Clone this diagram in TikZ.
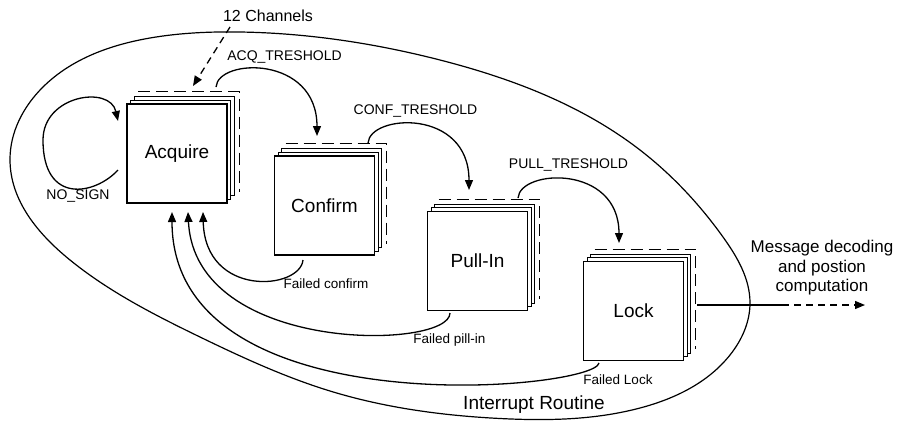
\documentclass[tikz,border=0pt]{standalone}
\usepackage{fontspec}
\setmainfont{Liberation Sans}
\usetikzlibrary{calc,arrows.meta,hobby}

\tikzset{
  chbox/.style={draw, fill=white, line width=1.2pt, minimum width=100pt,
    minimum height=99pt, inner sep=0pt, font=\fontsize{19}{22}\selectfont},
  backline/.style={line width=1.2pt, dash pattern=on 12pt off 6pt},
  flow/.style={line width=1.3pt, -{Triangle[length=10pt,width=8pt]}},
  dashflow/.style={line width=1.3pt, dash pattern=on 7pt off 5pt,
    -{Triangle[length=10pt,width=8pt]}},
  plainline/.style={line width=1.3pt},
  routine/.style={line width=1.2pt},
  lbl/.style={inner sep=0pt, font=\fontsize{14}{16}\selectfont},
  small/.style={inner sep=0pt, font=\fontsize{13.5}{16}\selectfont},
  big/.style={inner sep=0pt, font=\fontsize{19}{22}\selectfont},
}

% A stack of channel boxes: two copies behind, a dashed outline for the rest
\newcommand\chanstack[4]{%
  \node[chbox] at (#2+7.3,#3-7.3) {};
  \node[chbox] at (#2+3.7,#3-3.7) {};
  \node[chbox] (#1) at (#2,#3) {#4};
  \draw[backline] ($(#1.north west)+(11.7,-11.7)$) -- ($(#1.north east)+(11.7,-11.7)$)
    -- ($(#1.south east)+(11.7,-11.7)$);
}

\begin{document}
\begin{tikzpicture}[x=1pt,y=-1pt]
\useasboundingbox (0,0) rectangle (897,421);

% interrupt routine boundary
\draw[routine, use Hobby shortcut, closed=true]
  (240,32) .. (440,60) .. (640,150) .. (723,237) .. (750,303) .. (730,355)
  .. (640,408) .. (500,418.5) .. (330,391) .. (200,337) .. (70,260)
  .. (10,160) .. (43,87) .. (150,38);

% channel stacks
\chanstack{acq}{177}{153.5}{Acquire}
\chanstack{conf}{324.5}{205.5}{Confirm}
\chanstack{pull}{477.5}{261}{Pull-In}
\chanstack{lock}{633.5}{311}{Lock}

% labels
\node[big] (chan) at (268,16) {\fontsize{16}{18}\selectfont 12 Channels};
\node[lbl] (acqlbl) at (284.5,57) {ACQ\_TRESHOLD};
\node[lbl] (conflbl) at (415.5,111) {CONF\_TRESHOLD};
\node[lbl] (pulllbl) at (568.5,165) {PULL\_TRESHOLD};
\node[lbl] (nosign) at (78,196) {NO\_SIGN};
\node[small] (fconf) at (326,284) {Failed confirm};
\node[small] (fpull) at (449.5,340) {Failed pill-in};
\node[small] (flock) at (618,380) {Failed Lock};
\node[big] (irq) at (534,405) {Interrupt Routine};
\node[align=center, inner sep=0pt, font=\fontsize{17}{19.5}\selectfont] (msg)
  at (822,268) {Message decoding\\and postion\\computation};

% connector end points
\coordinate (chan-out) at (230,27);
\coordinate (acq-top) at (193,86);
\coordinate (loop-out) at (118,170);
\coordinate (loop-in) at (118,121);
\coordinate (acq-s) at (216,87);
\coordinate (conf-e) at (317,136);
\coordinate (conf-s) at (368,143);
\coordinate (pull-e) at (469,190);
\coordinate (pull-s) at (518,198);
\coordinate (lock-e) at (619,243);
\coordinate (fc-s) at (303,260);
\coordinate (fc-e) at (203,212);
\coordinate (fp-s) at (450,313);
\coordinate (fp-e) at (188,212);
\coordinate (fl-s) at (599,363);
\coordinate (fl-e) at (172,212);
\coordinate (out-s) at (697,305);
\coordinate (out-m) at (782,305);
\coordinate (out-e) at (865,305);

% channel input
\draw[dashflow] (chan-out) -- (acq-top);

% self loop
\draw[flow] (loop-out) .. controls (95,195) and (43,205) .. (43,140)
  .. controls (43,95) and (110,85) .. (loop-in);

% threshold transitions
\draw[flow] (acq-s) .. controls (218,58) and (317,55) .. (conf-e);
\draw[flow] (conf-s) .. controls (370,114) and (469,108) .. (pull-e);
\draw[flow] (pull-s) .. controls (520,169) and (619,164) .. (lock-e);

% failure returns
\draw[flow] (fc-s) .. controls (300,290) and (205,298) .. (fc-e);
\draw[flow] (fp-s) .. controls (450,350) and (195,355) .. (fp-e);
\draw[flow] (fl-s) .. controls (595,390) and (172,430) .. (fl-e);

% output
\draw[plainline] (out-s) -- (out-m);
\draw[dashflow] (out-m) -- (out-e);
\end{tikzpicture}
\end{document}
